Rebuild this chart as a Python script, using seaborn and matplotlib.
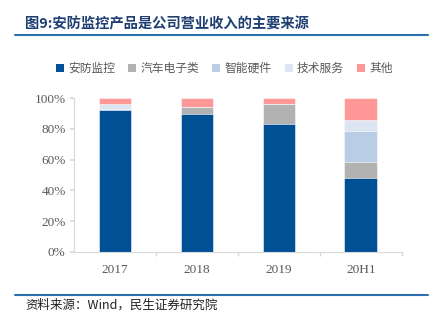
import matplotlib
matplotlib.use("Agg")
import matplotlib.pyplot as plt
import seaborn as sns
import pandas as pd
import numpy as np
from matplotlib.patches import Patch
from matplotlib.lines import Line2D

categories = ["2017", "2018", "2019", "20H1"]
series_names = ["安防监控", "汽车电子类", "智能硬件", "技术服务", "其他"]
security = [92.2, 89.8, 83.3, 48.1]
auto_elec = [0.0, 4.3, 12.7, 10.4]
smart_hw = [0.5, 0.3, 0.0, 20.0]
tech_service = [3.5, 0.0, 0.3, 7.2]
others = [3.8, 5.6, 3.7, 14.3]
yticks = [0, 20, 40, 60, 80, 100]
ytick_labels = ["0%", "20%", "40%", "60%", "80%", "100%"]

colors = ["#005096", "#b2b2b2", "#b9cde5", "#dce6f2", "#ff9797"]

sns.set_theme(style="white")
plt.rcParams['font.family'] = ['Noto Sans CJK SC', 'DejaVu Sans']

fig = plt.figure(figsize=(4.33, 3.26), dpi=100)
ax = fig.add_axes([0.171, 0.227, 0.757, 0.472])

values = [security, auto_elec, smart_hw, tech_service, others]
cum = np.cumsum(np.array(values), axis=0)
# draw from top of stack down so lower segments overlay
for i in reversed(range(len(series_names))):
    df = pd.DataFrame({"cat": categories, "val": cum[i]})
    sns.barplot(data=df, x="cat", y="val", color=colors[i], saturation=1,
                width=0.4, ax=ax, edgecolor="white", linewidth=0.4)

ax.set_ylim(0, 100)
ax.set_xlim(-0.5, 3.5)
ax.set_yticks(yticks)
ax.set_yticklabels(ytick_labels, family="Liberation Serif", fontsize=9.5, color="#595959")
ax.set_xticks(range(len(categories)))
ax.set_xticklabels(categories, family="Liberation Serif", fontsize=9.5, color="#595959")
ax.set_xlabel("")
ax.set_ylabel("")
for s in ["top", "right"]:
    ax.spines[s].set_visible(False)
for s in ["left", "bottom"]:
    ax.spines[s].set_color("#d9d9d9")
    ax.spines[s].set_linewidth(0.8)
ax.tick_params(axis="y", which="both", left=True, length=3, color="#d9d9d9", pad=3)
ax.tick_params(axis="x", which="major", bottom=False, pad=3)
ax.set_xticks([0.5, 1.5, 2.5, 3.5], minor=True)
ax.tick_params(axis="x", which="minor", bottom=True, length=3, color="#d9d9d9")

handles = [Patch(facecolor=c, edgecolor="none") for c in colors]
fig.legend(handles, series_names, loc="center", bbox_to_anchor=(0.518, 0.79),
           ncol=5, frameon=False, fontsize=8.5, handlelength=0.7, handleheight=0.7,
           handletextpad=0.35, columnspacing=1.1, labelcolor="#595959")

fig.text(0.058, 0.924, "图9:安防监控产品是公司营业收入的主要来源", fontsize=10.3,
         fontweight="bold", color="#1f3f73", va="center", ha="left")
fig.add_artist(Line2D([0.035, 0.988], [0.894, 0.894], color="#2e6fad", linewidth=1.5))
fig.add_artist(Line2D([0.035, 0.988], [0.095, 0.095], color="#2e6fad", linewidth=1.5))
fig.text(0.058, 0.063, "资料来源：Wind，民生证券研究院", fontsize=9, color="#222222",
         va="center", ha="left")

fig.savefig("out.png", dpi=100)
